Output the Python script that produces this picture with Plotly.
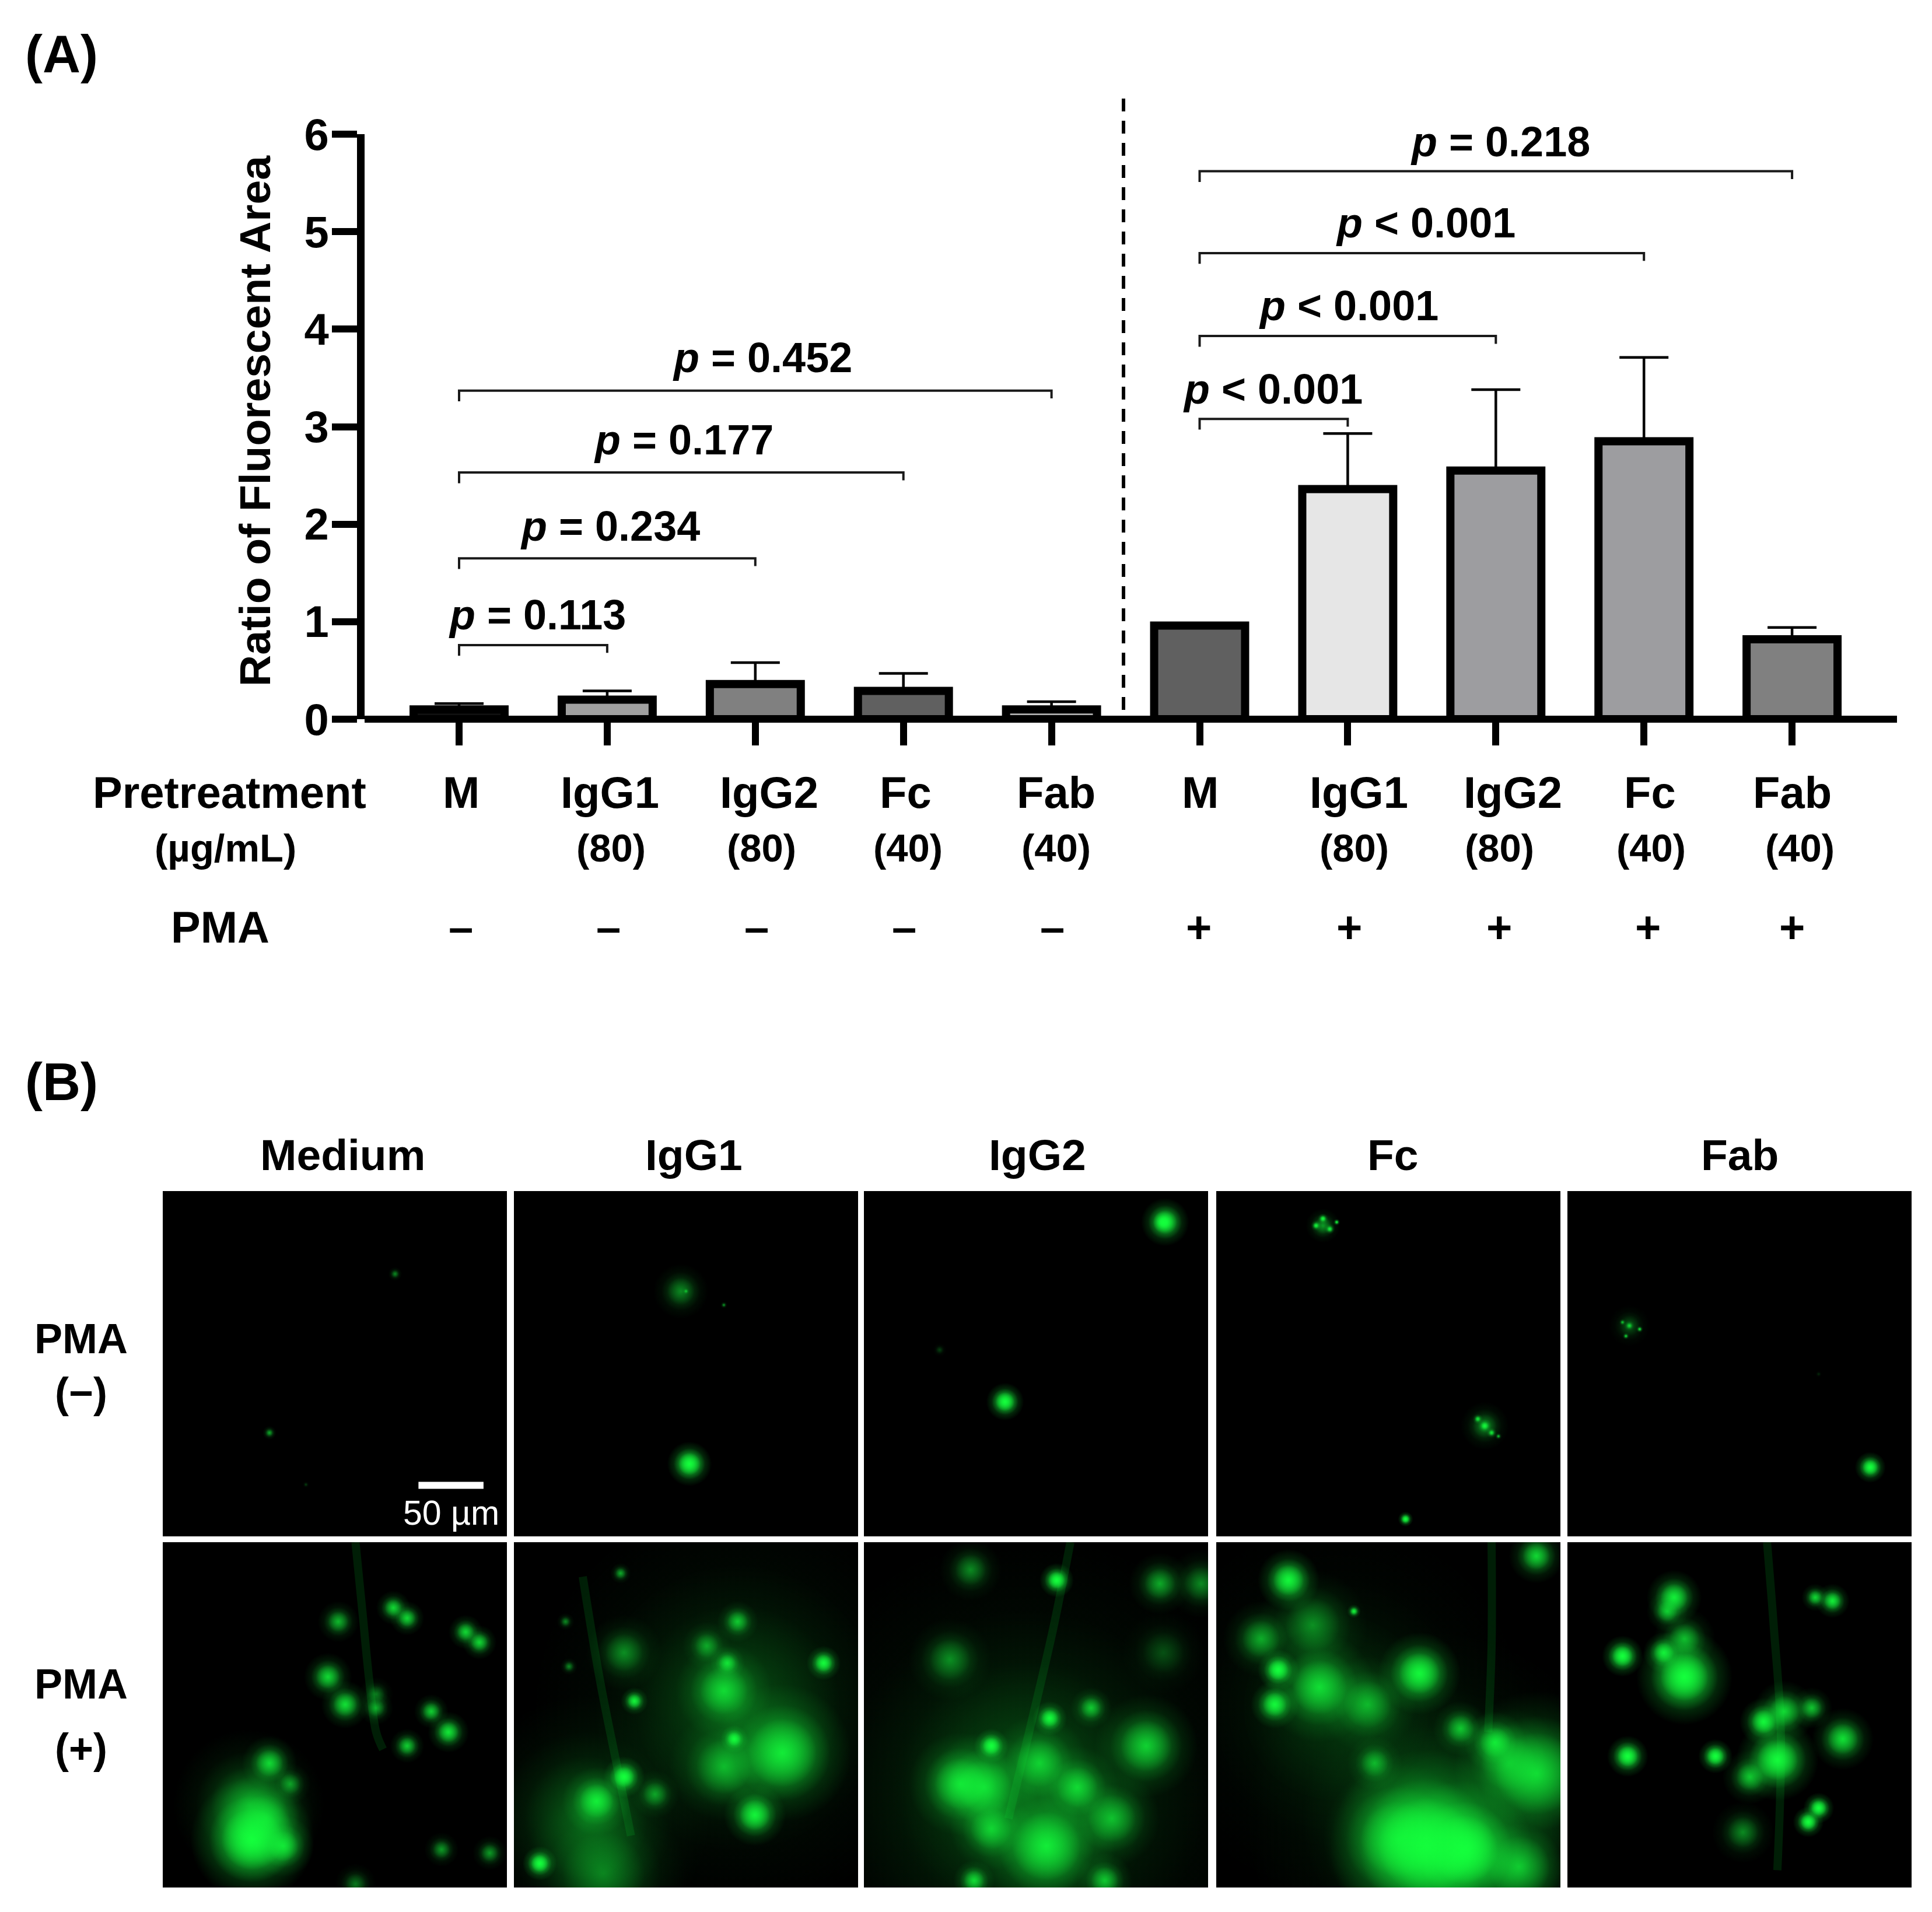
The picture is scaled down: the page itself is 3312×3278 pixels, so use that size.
import plotly.graph_objects as go

W, H = 3312, 3278
FONT = "Liberation Sans"

# ── panel A values ──────────────────────────────────────────────
pretreatment = ["M", "IgG1", "IgG2", "Fc", "Fab", "M", "IgG1", "IgG2", "Fc", "Fab"]
doses = ["", "(80)", "(80)", "(40)", "(40)", "", "(80)", "(80)", "(40)", "(40)"]
pma = ["–", "–", "–", "–", "–", "+", "+", "+", "+", "+"]
bar_values = [0.10, 0.20, 0.36, 0.29, 0.10, 0.96, 2.36, 2.55, 2.85, 0.82]
error_tops = [0.16, 0.29, 0.58, 0.47, 0.18, 0.96, 2.93, 3.38, 3.71, 0.94]
bar_colors = ["#111111", "#a0a0a0", "#808080", "#606060", "#b0b0b0",
              "#606060", "#e6e6e6", "#9d9da0", "#9d9da0", "#808080"]
y_ticks = [0, 1, 2, 3, 4, 5, 6]

# brackets: start bar, end bar, height, label
bracket_start = [0, 0, 0, 0, 5, 5, 5, 5]
bracket_end = [1, 2, 3, 4, 6, 7, 8, 9]
bracket_level = [0.76, 1.65, 2.53, 3.37, 3.08, 3.93, 4.78, 5.62]
bracket_text = ["= 0.113", "= 0.234", "= 0.177", "= 0.452",
                "< 0.001", "< 0.001", "< 0.001", "= 0.218"]
bracket_label_px = [(921, 1054), (1046, 902), (1172, 754), (1307, 613),
                    (2182, 667), (2312, 524), (2444, 382), (2572, 243)]

# ── panel B: fluorescent spots, (x, y, diameter, brightness), 0-100 panel units ──
col_titles = ["Medium", "IgG1", "IgG2", "Fc", "Fab"]

medium_neg = [(67.5, 24, 2, .30), (31, 70, 2, .40), (41.6, 85, 1, .12)]
igg1_neg = [(48.5, 29, 8, .30), (50, 29, 1, .4), (61, 33, 1, .35), (51, 79, 6.5, 1.0)]
igg2_neg = [(87.5, 9, 7, .9), (87, 9, 3, 1.0), (41, 61, 5.5, 1.0), (22, 46, 2, .12)]
fc_neg = [(29, 10, 1.5, .8), (31, 8, 1.5, .9), (33, 11, 1.5, .8), (35, 9, 1, .8), (31, 10, 5, .35),
          (76, 66, 1.5, .7), (78, 68, 2, .8), (80, 70, 1.5, .7), (78, 68, 7, .3), (82, 71, 1, .5),
          (55, 95, 2.2, 1.0)]
fab_neg = [(16, 38, 1, .5), (18, 39, 1.5, .55), (21, 40, 1, .7), (17, 42, 1, .6), (18, 39, 6, .18),
           (88, 80, 4.5, 1.0), (73, 53, 1, .08)]

medium_pos = [(67, 19, 5, .6), (71, 22, 5, .6), (51, 23, 6, .45), (88, 26, 5, .6), (92, 29, 5, .6),
              (48, 39, 7, .6), (53, 47, 7, .65), (62, 48, 5, .4), (62, 44, 5, .25), (78, 49, 5, .55),
              (83, 55, 6, .7), (71, 59, 5, .55), (31, 64, 8, .6), (37, 70, 6, .35), (26, 86, 18, 1.0),
              (25, 76, 22, .3), (35, 88, 9, .6), (81, 89, 5, .35), (95, 90, 5, .35), (56, 99, 6, .25),
              (30, 80, 14, .4)]
igg1_pos = [(65, 48, 60, .16), (21, 80, 36, .2), (26, 96, 24, .25), (78, 61, 20, .7), (61, 43, 14, .55),
            (62, 35, 5, .6), (90, 35, 5, .9), (65, 23, 6, .5), (56, 30, 7, .35), (32, 32, 11, .3),
            (35, 46, 4, .8), (64, 57, 4, .9), (32, 68, 6, 1.0), (24, 75, 10, .7), (41, 73, 7, .35),
            (61, 65, 16, .4), (70, 79, 9, .8), (7.5, 93, 5, 1.0), (31, 9, 3, .4), (15, 23, 2.5, .3),
            (16, 36, 2.5, .3)]
igg2_pos = [(47, 72, 75, .17), (25, 34, 12, .3), (28, 70, 15, .6), (56, 11, 5, 1.0), (86, 12, 9, .4),
            (98, 12, 10, .3), (31, 8, 9, .3), (87, 32, 12, .15), (54, 51, 5, .9), (66, 48, 6, .5),
            (37, 59, 5, 1.0), (82, 59, 15, .55), (35, 71, 16, .55), (62, 71, 12, .55), (53, 88, 20, .7),
            (72, 80, 14, .45), (37, 83, 12, .5), (51, 64, 14, .5), (70, 98, 8, .5), (32, 98, 6, .6)]
fc_pos = [(35, 48, 55, .1), (63, 80, 55, .16), (21, 11, 9, .85), (93, 4, 8, .6), (13, 28, 11, .4),
          (28, 24, 16, .3), (18, 37, 6, 1.0), (17, 47, 7, .85), (30, 42, 16, .6), (44, 47, 14, .4),
          (59, 38, 12, .85), (71, 54, 8, .5), (46, 64, 8, .4), (81, 58, 9, .65), (93, 67, 24, .6),
          (85, 64, 16, .35), (61, 88, 28, .9), (72, 89, 20, 1.0), (53, 86, 22, .55), (88, 94, 18, .5),
          (40, 20, 2, .8)]
fab_pos = [(31, 16, 8, .75), (29, 20, 6, .5), (77, 17, 5, .75), (72, 16, 4, .6), (34, 28, 9, .45),
           (16, 33, 6, 1.0), (28, 32, 6, .75), (34, 39, 14, 1.0), (71, 48, 6, .5), (63, 49, 9, .6),
           (57, 52, 7, .85), (80, 57, 9, .65), (17.5, 62, 6, 1.0), (43, 62, 5, 1.0), (61, 63, 12, .9),
           (53, 68, 8, .5), (73, 77, 4.5, 1.0), (70, 81, 4.5, 1.0), (51, 84, 9, .3)]

rows = [[medium_neg, igg1_neg, igg2_neg, fc_neg, fab_neg],
        [medium_pos, igg1_pos, igg2_pos, fc_pos, fab_pos]]

# faint strands seen in the + row, (panel column, x list, y list)
strands = [(0, [56, 58, 60, 62, 64], [0, 20, 40, 55, 60]),
           (1, [20, 25, 30, 34], [10, 40, 65, 85]),
           (2, [60, 55, 48, 42], [0, 25, 55, 80]),
           (3, [80, 80, 79], [0, 30, 55]),
           (4, [58, 60, 62, 61], [0, 25, 55, 95])]

scale_bar_x = [74.3, 93.2]
scale_bar_y = [85.2, 85.2]

panel_left = [279, 881, 1481, 2085, 2687]
panel_w = 590
panel_top = [2042, 2644]
panel_h = 592


def fx(p):
    return p / W


def fy(p):
    return 1 - p / H


def label(fig, x, y, text, size=76, color="black", bold=True, **kw):
    fig.add_annotation(x=fx(x), y=fy(y), xref="paper", yref="paper", showarrow=False,
                       text=f"<b>{text}</b>" if bold else text, xanchor=kw.pop("xanchor", "center"),
                       yanchor="middle", font=dict(family=FONT, size=size, color=color), **kw)


fig = go.Figure()

# bars
tick_first, tick_step = 787, 253.9
plot_left, plot_right = 625, 3252
x_idx = list(range(len(bar_values)))
fig.add_trace(go.Bar(
    x=x_idx, y=bar_values, width=0.614,
    marker=dict(color=bar_colors, line=dict(color="black", width=14)),
    error_y=dict(type="data", symmetric=False,
                 array=[t - v for t, v in zip(error_tops, bar_values)],
                 arrayminus=[0] * len(bar_values),
                 color="black", thickness=4.5, width=42),
    showlegend=False,
))

# significance brackets
for s, e, lv in zip(bracket_start, bracket_end, bracket_level):
    fig.add_trace(go.Scatter(x=[s, s, e, e], y=[lv - 0.11, lv, lv, lv - 0.08], mode="lines",
                             line=dict(color="#1a1a1a", width=4), showlegend=False))

fig.update_layout(
    width=W, height=H, margin=dict(l=0, r=0, t=0, b=0, pad=0, autoexpand=False),
    paper_bgcolor="white", plot_bgcolor="rgba(0,0,0,0)", showlegend=False,
    font=dict(family=FONT, color="black"),
    xaxis=dict(domain=[fx(plot_left), fx(plot_right)],
               range=[(plot_left - tick_first) / tick_step, (plot_right - tick_first) / tick_step],
               tickvals=x_idx, showticklabels=False, ticks="outside", ticklen=44, tickwidth=12,
               tickcolor="black", showgrid=False, zeroline=False, showline=False),
    yaxis=dict(domain=[fy(1233), fy(230)], range=[0, 6], tickvals=y_ticks, ticks="outside",
               ticklen=43, tickwidth=12, tickcolor="black", showgrid=False, showline=True,
               linewidth=13, linecolor="black", zeroline=True, zerolinewidth=12, zerolinecolor="black",
               ticklabelstandoff=-10,
               tickfont=dict(family=FONT, size=76, color="black", weight="bold")),
)

# divider between the PMA groups
fig.add_shape(type="line", xref="paper", yref="paper", x0=fx(1926), x1=fx(1926), y0=fy(169), y1=fy(1220),
              line=dict(color="black", width=6, dash="22px,16px"))

# panel B grid
ax_n = 2
for r, row in enumerate(rows):
    for c, spots in enumerate(row):
        x0, y0 = panel_left[c], panel_top[r]
        fig.add_shape(type="rect", xref="paper", yref="paper", layer="below",
                      x0=fx(x0), x1=fx(x0 + panel_w), y0=fy(y0 + panel_h), y1=fy(y0),
                      fillcolor="black", line_width=0)
        fig.layout[f"xaxis{ax_n}"] = dict(domain=[fx(x0), fx(x0 + panel_w)], range=[0, 100], visible=False,
                                          anchor=f"y{ax_n}")
        fig.layout[f"yaxis{ax_n}"] = dict(domain=[fy(y0 + panel_h), fy(y0)], range=[100, 0], visible=False,
                                          anchor=f"x{ax_n}")
        if r == 1:
            for col, sx, sy in strands:
                if col == c:
                    fig.add_trace(go.Scatter(x=sx, y=sy, mode="lines", xaxis=f"x{ax_n}", yaxis=f"y{ax_n}",
                                             line=dict(color="rgba(0,150,30,0.2)", width=14, shape="spline"),
                                             showlegend=False))
        # stacked radial fills give the spots a flat bright middle and a soft edge
        for grow, fade in [(2.0, 0.5), (1.4, 0.75), (1.0, 1.0)]:
            fig.add_trace(go.Scatter(
                x=[s[0] for s in spots], y=[s[1] for s in spots], mode="markers",
                xaxis=f"x{ax_n}", yaxis=f"y{ax_n}", showlegend=False,
                marker=dict(size=[s[2] * panel_w / 100 * grow for s in spots], sizemode="diameter",
                            color="rgba(20,255,60,0)", line_width=0, opacity=1,
                            gradient=dict(type="radial",
                                          color=[f"rgba(20,255,60,{s[3] * fade:.3f})" for s in spots])),
            ))
        if r == 0 and c == 0:
            fig.add_trace(go.Scatter(x=scale_bar_x, y=scale_bar_y, mode="lines", xaxis=f"x{ax_n}", yaxis=f"y{ax_n}",
                                     line=dict(color="white", width=12), showlegend=False))
        ax_n += 1

# text, panel A
label(fig, 105, 93, "(A)", size=90)
label(fig, 437, 722, "Ratio of Fluorescent Area", size=75, textangle=-90)
for (px, py), t in zip(bracket_label_px, bracket_text):
    t = t.replace("<", "&lt;")
    label(fig, px, py, f"<i>p</i> {t}", size=72)

label(fig, 393, 1358, "Pretreatment", size=76)
label(fig, 386, 1453, "(µg/mL)", size=67)
label(fig, 377, 1590, "PMA", size=76)
name_x = [790, 1045, 1318, 1552, 1810, 2057, 2329, 2593, 2828, 3072]
dose_x = [790, 1047, 1305, 1556, 1810, 2057, 2321, 2570, 2830, 3085]
sign_x = [790, 1043, 1297, 1550, 1804, 2055, 2313, 2570, 2825, 3072]
for i in range(10):
    label(fig, name_x[i], 1358, pretreatment[i], size=76)
    if doses[i]:
        label(fig, dose_x[i], 1453, doses[i], size=67)
    label(fig, sign_x[i], 1590, pma[i], size=76)

# text, panel B
label(fig, 105, 1855, "(B)", size=90)
for t, tx in zip(col_titles, [587, 1189, 1778, 2388, 2982]):
    label(fig, tx, 1980, t, size=75)
label(fig, 139, 2295, "PMA", size=72)
label(fig, 139, 2388, "(−)", size=72)
label(fig, 139, 2887, "PMA", size=72)
label(fig, 139, 2998, "(+)", size=72)
label(fig, 773, 2594, "50 µm", size=59, color="white", bold=False)

fig.write_html("out.html", config={"displayModeBar": False},
               post_script="document.body.style.margin='0';")
